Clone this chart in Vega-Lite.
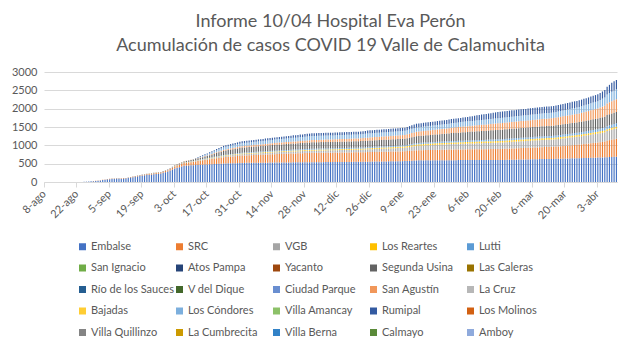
{
  "$schema": "https://vega.github.io/schema/vega-lite/v6.json",
  "width": 573,
  "height": 110,
  "autosize": {"type": "none"},
  "padding": {"left": 44, "top": 72, "right": 20, "bottom": 171},
  "background": "white",
  "title": {
    "text": ["Informe 10/04 Hospital Eva Perón", "Acumulación de casos COVID 19 Valle de Calamuchita"],
    "font": "Lato", "fontSize": 18, "fontWeight": "normal", "color": "#595959",
    "anchor": "middle", "offset": 11, "lineHeight": 24
  },
  "datasets": {
    "names": [
      {"k": "a", "s": "Embalse", "o": 0},
      {"k": "b", "s": "SRC", "o": 1},
      {"k": "c", "s": "VGB", "o": 2},
      {"k": "d", "s": "Los Reartes", "o": 3},
      {"k": "e", "s": "Lutti", "o": 4},
      {"k": "i", "s": "Segunda Usina", "o": 8},
      {"k": "n", "s": "San Agustín", "o": 13},
      {"k": "q", "s": "Los Cóndores", "o": 16},
      {"k": "s", "s": "Rumipal", "o": 18}
    ]
  },
  "data": {"values": [
    {"t":0,"a":0},{"t":1,"a":0},{"t":2,"a":0},{"t":3,"a":0},{"t":4,"a":0},{"t":5,"a":0},{"t":6,"a":0},{"t":7,"a":0},{"t":8,"a":0},{"t":9,"a":0},{"t":10,"a":0},{"t":11,"a":0},{"t":12,"a":0},{"t":13,"a":0},{"t":14,"a":0},{"t":15,"a":0},{"t":16,"a":0},
    {"t":17,"a":5},{"t":18,"a":9,"b":1},{"t":19,"a":13,"b":1},{"t":20,"a":18,"b":2},{"t":21,"a":22,"b":3},
    {"t":22,"a":29,"b":4,"i":1},{"t":23,"a":36,"b":4,"i":1},{"t":24,"a":43,"b":5,"i":2},
    {"t":25,"a":52,"b":6,"i":2},{"t":26,"a":60,"b":6,"i":3},{"t":27,"a":69,"b":7,"i":3},{"t":28,"a":78,"b":8,"i":4},
    {"t":29,"a":81,"b":8,"i":4},{"t":30,"a":83,"b":9,"i":5},{"t":31,"a":86,"b":9,"i":5},
    {"t":32,"a":88,"b":9,"i":5},{"t":33,"a":90,"b":10,"i":5},{"t":34,"a":92,"b":10,"i":5},{"t":35,"a":94,"b":10,"i":5,"c":1},
    {"t":36,"a":106,"b":11,"i":5,"c":1},{"t":37,"a":117,"b":12,"i":6,"c":1},{"t":38,"a":129,"b":13,"i":6,"c":1,"d":1},{"t":39,"a":140,"b":14,"i":7,"c":2,"d":1},{"t":40,"a":152,"b":16,"i":7,"c":2,"d":1},{"t":41,"a":163,"b":17,"i":8,"c":2,"d":2},{"t":42,"a":175,"b":18,"i":8,"c":2,"d":2},
    {"t":43,"a":182,"b":19,"i":8,"c":2,"d":2},{"t":44,"a":189,"b":21,"i":8,"c":2,"d":2},{"t":45,"a":196,"b":22,"i":9,"c":2,"d":2},{"t":46,"a":203,"b":23,"i":9,"c":3,"d":2},{"t":47,"a":211,"b":24,"i":9,"c":3,"d":2},{"t":48,"a":218,"b":26,"i":10,"c":3,"d":2},{"t":49,"a":225,"b":27,"i":10,"c":3,"d":2},{"t":50,"a":232,"b":28,"i":10,"c":3,"d":2},
    {"t":51,"a":250,"b":31,"i":11,"c":3,"d":2},{"t":52,"a":267,"b":34,"i":11,"c":4,"d":2},{"t":53,"a":285,"b":37,"i":12,"c":4,"d":2},
    {"t":54,"a":313,"b":41,"i":13,"c":4,"d":3,"e":2,"n":2},{"t":55,"a":342,"b":46,"i":14,"c":5,"d":4,"e":3,"n":3},{"t":56,"a":370,"b":50,"i":15,"c":5,"d":5,"e":5,"n":5},
    {"t":57,"a":388,"b":56,"i":18,"c":6,"d":5,"e":5,"n":5},{"t":58,"a":405,"b":63,"i":20,"c":7,"d":5,"e":5,"n":5},{"t":59,"a":423,"b":69,"i":23,"c":7,"d":6,"e":6,"n":5},{"t":60,"a":440,"b":75,"i":25,"c":8,"d":6,"e":6,"n":5},
    {"t":61,"a":445,"b":78,"i":28,"c":9,"d":6,"e":6,"n":5},{"t":62,"a":450,"b":82,"i":32,"c":9,"d":7,"e":7,"n":6},{"t":63,"a":455,"b":85,"i":35,"c":10,"d":7,"e":7,"n":6},
    {"t":64,"a":459,"b":91,"c":11,"d":7,"e":7,"i":39,"n":7,"q":4,"s":4},
    {"t":65,"a":462,"b":98,"c":13,"d":8,"e":8,"i":42,"n":9,"q":9,"s":7},
    {"t":66,"a":466,"b":104,"c":14,"d":8,"e":8,"i":46,"n":10,"q":13,"s":11},
    {"t":67,"a":469,"b":111,"c":16,"d":9,"e":9,"i":50,"n":11,"q":17,"s":14},
    {"t":68,"a":473,"b":117,"c":17,"d":9,"e":9,"i":53,"n":12,"q":21,"s":18},
    {"t":69,"a":476,"b":124,"c":19,"d":10,"e":10,"i":57,"n":14,"q":26,"s":21},
    {"t":70,"a":480,"b":130,"c":20,"d":10,"e":10,"i":60,"n":15,"q":30,"s":25},
    {"t":71,"a":484,"b":136,"c":21,"d":11,"e":11,"i":68,"n":17,"q":36,"s":27},
    {"t":72,"a":487,"b":141,"c":23,"d":11,"e":11,"i":75,"n":19,"q":41,"s":29},
    {"t":73,"a":491,"b":147,"c":24,"d":12,"e":12,"i":83,"n":21,"q":47,"s":31},
    {"t":74,"a":494,"b":153,"c":26,"d":12,"e":13,"i":90,"n":22,"q":53,"s":34},
    {"t":75,"a":498,"b":159,"c":27,"d":13,"e":14,"i":98,"n":24,"q":59,"s":36},
    {"t":76,"a":501,"b":164,"c":29,"d":13,"e":14,"i":105,"n":26,"q":64,"s":38},
    {"t":77,"a":505,"b":170,"c":30,"d":14,"e":15,"i":113,"n":28,"q":70,"s":40},
    {"t":78,"a":507,"b":174,"c":31,"d":15,"e":16,"i":116,"n":30,"q":71,"s":42},
    {"t":79,"a":509,"b":178,"c":33,"d":15,"e":16,"i":120,"n":31,"q":73,"s":43},
    {"t":80,"a":511,"b":181,"c":34,"d":16,"e":17,"i":123,"n":33,"q":74,"s":45},
    {"t":81,"a":513,"b":185,"c":35,"d":16,"e":17,"i":127,"n":34,"q":75,"s":46},
    {"t":82,"a":514,"b":189,"c":36,"d":16,"e":18,"i":130,"n":36,"q":76,"s":48},
    {"t":83,"a":516,"b":193,"c":38,"d":17,"e":19,"i":133,"n":37,"q":78,"s":49},
    {"t":84,"a":518,"b":196,"c":39,"d":17,"e":19,"i":137,"n":39,"q":79,"s":51},
    {"t":85,"a":520,"b":200,"c":40,"d":18,"e":20,"i":140,"n":40,"q":80,"s":52},
    {"t":86,"a":521,"b":202,"c":41,"d":18,"e":20,"i":141,"n":41,"q":81,"s":52},
    {"t":87,"a":522,"b":204,"c":41,"d":18,"e":21,"i":143,"n":41,"q":82,"s":53},
    {"t":88,"a":522,"b":206,"c":42,"d":19,"e":21,"i":144,"n":42,"q":83,"s":53},
    {"t":89,"a":523,"b":208,"c":43,"d":19,"e":21,"i":145,"n":43,"q":84,"s":53},
    {"t":90,"a":523,"b":210,"c":43,"d":19,"e":21,"i":147,"n":43,"q":85,"s":54},
    {"t":91,"a":524,"b":212,"c":44,"d":20,"e":22,"i":148,"n":44,"q":86,"s":54},
    {"t":92,"a":525,"b":214,"c":45,"d":20,"e":22,"i":149,"n":45,"q":87,"s":54},
    {"t":93,"a":526,"b":216,"c":45,"d":20,"e":22,"i":151,"n":45,"q":87,"s":54},
    {"t":94,"a":526,"b":218,"c":46,"d":20,"e":22,"i":152,"n":46,"q":88,"s":55},
    {"t":95,"a":527,"b":220,"c":47,"d":21,"e":23,"i":153,"n":47,"q":90,"s":55},
    {"t":96,"a":528,"b":222,"c":47,"d":21,"e":23,"i":155,"n":47,"q":91,"s":56},
    {"t":97,"a":529,"b":224,"c":48,"d":21,"e":23,"i":156,"n":48,"q":92,"s":56},
    {"t":98,"a":530,"b":226,"c":49,"d":21,"e":23,"i":157,"n":49,"q":93,"s":56},
    {"t":99,"a":531,"b":228,"c":49,"d":22,"e":24,"i":159,"n":49,"q":94,"s":57},
    {"t":100,"a":532,"b":230,"c":50,"d":22,"e":24,"i":160,"n":50,"q":95,"s":57},
    {"t":101,"a":533,"b":232,"c":51,"d":22,"e":24,"i":161,"n":51,"q":96,"s":58},
    {"t":102,"a":533,"b":233,"c":51,"d":22,"e":25,"i":162,"n":51,"q":97,"s":59},
    {"t":103,"a":534,"b":235,"c":52,"d":23,"e":25,"i":163,"n":52,"q":98,"s":61},
    {"t":104,"a":534,"b":237,"c":53,"d":23,"e":25,"i":164,"n":53,"q":99,"s":62},
    {"t":105,"a":535,"b":238,"c":53,"d":23,"e":25,"i":165,"n":53,"q":100,"s":63},
    {"t":106,"a":535,"b":240,"c":54,"d":23,"e":26,"i":166,"n":54,"q":101,"s":64},
    {"t":107,"a":536,"b":242,"c":55,"d":24,"e":26,"i":167,"n":55,"q":102,"s":65},
    {"t":108,"a":536,"b":243,"c":55,"d":24,"e":26,"i":168,"n":55,"q":103,"s":67},
    {"t":109,"a":537,"b":245,"c":56,"d":24,"e":26,"i":169,"n":56,"q":104,"s":68},
    {"t":110,"a":537,"b":247,"c":57,"d":24,"e":27,"i":170,"n":57,"q":105,"s":69},
    {"t":111,"a":538,"b":248,"c":57,"d":24,"e":27,"i":171,"n":57,"q":106,"s":70},
    {"t":112,"a":538,"b":250,"c":58,"d":25,"e":27,"i":172,"n":58,"q":107,"s":71},
    {"t":113,"a":539,"b":252,"c":59,"d":25,"e":27,"i":173,"n":59,"q":108,"s":73},
    {"t":114,"a":539,"b":253,"c":59,"d":25,"e":28,"i":174,"n":59,"q":109,"s":74},
    {"t":115,"a":540,"b":255,"c":60,"d":25,"e":28,"i":175,"n":60,"q":110,"s":75},
    {"t":116,"a":540,"b":255,"c":60,"d":25,"e":28,"i":175,"n":61,"q":110,"s":75},
    {"t":117,"a":541,"b":255,"c":61,"d":25,"e":28,"i":175,"n":62,"q":110,"s":75},
    {"t":118,"a":541,"b":256,"c":61,"d":25,"e":28,"i":175,"n":62,"q":110,"s":75},
    {"t":119,"a":542,"b":256,"c":62,"d":26,"e":28,"i":175,"n":63,"q":110,"s":75},
    {"t":120,"a":542,"b":256,"c":62,"d":26,"e":28,"i":175,"n":64,"q":110,"s":75},
    {"t":121,"a":543,"b":256,"c":63,"d":26,"e":28,"i":175,"n":65,"q":110,"s":75},
    {"t":122,"a":543,"b":257,"c":63,"d":26,"e":28,"i":175,"n":65,"q":110,"s":75},
    {"t":123,"a":544,"b":257,"c":64,"d":26,"e":28,"i":175,"n":66,"q":110,"s":75},
    {"t":124,"a":544,"b":257,"c":64,"d":26,"e":28,"i":175,"n":67,"q":110,"s":75},
    {"t":125,"a":545,"b":257,"c":65,"d":26,"e":28,"i":175,"n":68,"q":110,"s":75},
    {"t":126,"a":545,"b":257,"c":65,"d":27,"e":29,"i":175,"n":68,"q":110,"s":75},
    {"t":127,"a":546,"b":258,"c":66,"d":27,"e":29,"i":175,"n":69,"q":110,"s":75},
    {"t":128,"a":546,"b":258,"c":66,"d":27,"e":29,"i":175,"n":70,"q":110,"s":75},
    {"t":129,"a":547,"b":258,"c":67,"d":27,"e":29,"i":175,"n":71,"q":110,"s":75},
    {"t":130,"a":547,"b":259,"c":67,"d":27,"e":29,"i":175,"n":72,"q":110,"s":75},
    {"t":131,"a":548,"b":259,"c":68,"d":27,"e":29,"i":175,"n":72,"q":110,"s":75},
    {"t":132,"a":548,"b":259,"c":68,"d":28,"e":29,"i":175,"n":73,"q":110,"s":75},
    {"t":133,"a":549,"b":259,"c":69,"d":28,"e":29,"i":175,"n":74,"q":110,"s":75},
    {"t":134,"a":549,"b":260,"c":69,"d":28,"e":29,"i":175,"n":74,"q":110,"s":75},
    {"t":135,"a":550,"b":260,"c":70,"d":28,"e":29,"i":175,"n":75,"q":110,"s":75},
    {"t":136,"a":551,"b":260,"c":71,"d":28,"e":29,"i":176,"n":77,"q":110,"s":76},
    {"t":137,"a":552,"b":261,"c":72,"d":29,"e":29,"i":176,"n":79,"q":111,"s":77},
    {"t":138,"a":553,"b":261,"c":73,"d":29,"e":30,"i":177,"n":81,"q":111,"s":79},
    {"t":139,"a":554,"b":262,"c":74,"d":30,"e":30,"i":177,"n":83,"q":112,"s":80},
    {"t":140,"a":555,"b":262,"c":75,"d":30,"e":30,"i":178,"n":85,"q":112,"s":81},
    {"t":141,"a":556,"b":262,"c":76,"d":30,"e":30,"i":178,"n":86,"q":112,"s":81},
    {"t":142,"a":557,"b":263,"c":78,"d":31,"e":30,"i":179,"n":87,"q":112,"s":82},
    {"t":143,"a":558,"b":263,"c":79,"d":31,"e":30,"i":179,"n":88,"q":112,"s":82},
    {"t":144,"a":559,"b":264,"c":80,"d":31,"e":31,"i":179,"n":89,"q":112,"s":82},
    {"t":145,"a":560,"b":264,"c":82,"d":32,"e":31,"i":179,"n":90,"q":112,"s":82},
    {"t":146,"a":561,"b":264,"c":83,"d":32,"e":31,"i":180,"n":91,"q":112,"s":83},
    {"t":147,"a":562,"b":265,"c":84,"d":32,"e":31,"i":180,"n":92,"q":113,"s":83},
    {"t":148,"a":563,"b":265,"c":86,"d":33,"e":31,"i":180,"n":93,"q":113,"s":83},
    {"t":149,"a":564,"b":266,"c":87,"d":33,"e":31,"i":180,"n":94,"q":113,"s":83},
    {"t":150,"a":565,"b":266,"c":88,"d":33,"e":31,"i":181,"n":95,"q":113,"s":84},
    {"t":151,"a":566,"b":266,"c":90,"d":34,"e":31,"i":181,"n":96,"q":113,"s":84},
    {"t":152,"a":567,"b":267,"c":91,"d":34,"e":32,"i":181,"n":97,"q":113,"s":84},
    {"t":153,"a":568,"b":267,"c":92,"d":34,"e":32,"i":181,"n":98,"q":113,"s":85},
    {"t":154,"a":569,"b":268,"c":94,"d":35,"e":32,"i":182,"n":99,"q":113,"s":85},
    {"t":155,"a":570,"b":268,"c":95,"d":35,"e":32,"i":182,"n":100,"q":113,"s":85},
    {"t":156,"a":574,"b":269,"c":100,"d":36,"e":33,"i":184,"n":104,"q":113,"s":89},
    {"t":157,"a":578,"b":271,"c":105,"d":37,"e":33,"i":185,"n":108,"q":114,"s":93},
    {"t":158,"a":582,"b":272,"c":110,"d":38,"e":34,"i":187,"n":112,"q":114,"s":97},
    {"t":159,"a":586,"b":274,"c":115,"d":39,"e":34,"i":188,"n":116,"q":115,"s":101},
    {"t":160,"a":590,"b":275,"c":120,"d":40,"e":35,"i":190,"n":120,"q":115,"s":105},
    {"t":161,"a":590,"b":276,"c":122,"d":40,"e":35,"i":192,"n":122,"q":116,"s":105},
    {"t":162,"a":591,"b":277,"c":124,"d":40,"e":36,"i":193,"n":123,"q":116,"s":105},
    {"t":163,"a":591,"b":278,"c":126,"d":41,"e":36,"i":195,"n":125,"q":117,"s":106},
    {"t":164,"a":592,"b":279,"c":128,"d":41,"e":36,"i":196,"n":126,"q":118,"s":106},
    {"t":165,"a":592,"b":280,"c":130,"d":41,"e":37,"i":198,"n":128,"q":119,"s":106},
    {"t":166,"a":592,"b":281,"c":132,"d":41,"e":37,"i":199,"n":129,"q":120,"s":106},
    {"t":167,"a":593,"b":282,"c":134,"d":41,"e":37,"i":201,"n":131,"q":120,"s":106},
    {"t":168,"a":593,"b":283,"c":136,"d":42,"e":37,"i":202,"n":132,"q":121,"s":107},
    {"t":169,"a":594,"b":284,"c":138,"d":42,"e":38,"i":204,"n":134,"q":121,"s":107},
    {"t":170,"a":594,"b":285,"c":140,"d":42,"e":38,"i":205,"n":135,"q":122,"s":107},
    {"t":171,"a":594,"b":286,"c":142,"d":42,"e":38,"i":207,"n":137,"q":123,"s":108},
    {"t":172,"a":595,"b":286,"c":143,"d":42,"e":39,"i":210,"n":139,"q":124,"s":109},
    {"t":173,"a":595,"b":287,"c":145,"d":42,"e":39,"i":212,"n":141,"q":124,"s":109},
    {"t":174,"a":595,"b":288,"c":146,"d":42,"e":39,"i":214,"n":143,"q":125,"s":110},
    {"t":175,"a":596,"b":289,"c":148,"d":43,"e":40,"i":217,"n":145,"q":126,"s":111},
    {"t":176,"a":596,"b":289,"c":149,"d":43,"e":40,"i":219,"n":147,"q":127,"s":112},
    {"t":177,"a":596,"b":290,"c":151,"d":43,"e":40,"i":221,"n":149,"q":128,"s":113},
    {"t":178,"a":597,"b":291,"c":152,"d":43,"e":40,"i":223,"n":151,"q":128,"s":113},
    {"t":179,"a":597,"b":291,"c":154,"d":43,"e":41,"i":226,"n":153,"q":129,"s":114},
    {"t":180,"a":597,"b":292,"c":155,"d":43,"e":41,"i":228,"n":155,"q":130,"s":115},
    {"t":181,"a":597,"b":292,"c":156,"d":43,"e":41,"i":230,"n":157,"q":131,"s":119},
    {"t":182,"a":597,"b":293,"c":158,"d":43,"e":42,"i":232,"n":158,"q":131,"s":122},
    {"t":183,"a":598,"b":293,"c":159,"d":43,"e":42,"i":234,"n":160,"q":132,"s":126},
    {"t":184,"a":598,"b":294,"c":160,"d":44,"e":42,"i":236,"n":161,"q":132,"s":129},
    {"t":185,"a":598,"b":294,"c":161,"d":44,"e":42,"i":238,"n":163,"q":133,"s":133},
    {"t":186,"a":598,"b":295,"c":163,"d":44,"e":43,"i":240,"n":165,"q":134,"s":137},
    {"t":187,"a":599,"b":295,"c":164,"d":44,"e":43,"i":242,"n":166,"q":134,"s":140},
    {"t":188,"a":599,"b":296,"c":165,"d":44,"e":43,"i":244,"n":168,"q":135,"s":144},
    {"t":189,"a":599,"b":296,"c":166,"d":44,"e":43,"i":246,"n":169,"q":136,"s":148},
    {"t":190,"a":599,"b":297,"c":168,"d":44,"e":43,"i":248,"n":171,"q":136,"s":151},
    {"t":191,"a":599,"b":297,"c":169,"d":45,"e":44,"i":250,"n":172,"q":137,"s":155},
    {"t":192,"a":599,"b":298,"c":170,"d":45,"e":44,"i":252,"n":174,"q":137,"s":158},
    {"t":193,"a":599,"b":298,"c":171,"d":45,"e":44,"i":254,"n":175,"q":138,"s":162},
    {"t":194,"a":600,"b":299,"c":173,"d":45,"e":44,"i":256,"n":177,"q":139,"s":166},
    {"t":195,"a":600,"b":299,"c":174,"d":45,"e":45,"i":258,"n":178,"q":139,"s":169},
    {"t":196,"a":600,"b":300,"c":175,"d":45,"e":45,"i":260,"n":180,"q":140,"s":173},
    {"t":197,"a":601,"b":301,"c":176,"d":45,"e":45,"i":261,"n":181,"q":141,"s":173},
    {"t":198,"a":603,"b":303,"c":177,"d":45,"e":46,"i":262,"n":182,"q":141,"s":173},
    {"t":199,"a":604,"b":304,"c":178,"d":45,"e":46,"i":262,"n":183,"q":142,"s":174},
    {"t":200,"a":606,"b":306,"c":179,"d":45,"e":47,"i":263,"n":184,"q":142,"s":174},
    {"t":201,"a":607,"b":307,"c":181,"d":45,"e":47,"i":264,"n":186,"q":143,"s":174},
    {"t":202,"a":608,"b":308,"c":182,"d":45,"e":47,"i":265,"n":187,"q":143,"s":174},
    {"t":203,"a":610,"b":310,"c":183,"d":45,"e":48,"i":266,"n":188,"q":144,"s":175},
    {"t":204,"a":611,"b":311,"c":184,"d":45,"e":48,"i":267,"n":189,"q":144,"s":175},
    {"t":205,"a":613,"b":313,"c":185,"d":46,"e":48,"i":267,"n":190,"q":145,"s":175},
    {"t":206,"a":614,"b":314,"c":186,"d":46,"e":49,"i":268,"n":191,"q":146,"s":175},
    {"t":207,"a":615,"b":315,"c":187,"d":46,"e":49,"i":269,"n":192,"q":146,"s":175},
    {"t":208,"a":617,"b":317,"c":188,"d":46,"e":49,"i":270,"n":193,"q":147,"s":176},
    {"t":209,"a":618,"b":318,"c":190,"d":46,"e":50,"i":271,"n":194,"q":147,"s":176},
    {"t":210,"a":619,"b":319,"c":191,"d":46,"e":50,"i":272,"n":196,"q":148,"s":176},
    {"t":211,"a":621,"b":321,"c":192,"d":46,"e":51,"i":272,"n":197,"q":148,"s":176},
    {"t":212,"a":622,"b":322,"c":193,"d":46,"e":51,"i":273,"n":198,"q":149,"s":177},
    {"t":213,"a":624,"b":324,"c":194,"d":46,"e":51,"i":274,"n":199,"q":149,"s":177},
    {"t":214,"a":625,"b":325,"c":195,"d":46,"e":52,"i":275,"n":200,"q":150,"s":177},
    {"t":215,"a":626,"b":326,"c":196,"d":46,"e":52,"i":275,"n":201,"q":151,"s":177},
    {"t":216,"a":627,"b":327,"c":197,"d":46,"e":53,"i":276,"n":202,"q":151,"s":177},
    {"t":217,"a":628,"b":328,"c":198,"d":46,"e":53,"i":276,"n":204,"q":152,"s":177},
    {"t":218,"a":629,"b":329,"c":199,"d":46,"e":54,"i":277,"n":205,"q":152,"s":177},
    {"t":219,"a":630,"b":330,"c":200,"d":46,"e":54,"i":277,"n":206,"q":153,"s":177},
    {"t":220,"a":632,"b":334,"c":202,"d":46,"e":55,"i":278,"n":209,"q":155,"s":177},
    {"t":221,"a":634,"b":337,"c":204,"d":46,"e":55,"i":278,"n":211,"q":157,"s":178},
    {"t":222,"a":635,"b":341,"c":205,"d":47,"e":56,"i":279,"n":214,"q":159,"s":178},
    {"t":223,"a":637,"b":345,"c":207,"d":47,"e":57,"i":280,"n":217,"q":161,"s":179},
    {"t":224,"a":639,"b":348,"c":209,"d":47,"e":58,"i":281,"n":219,"q":163,"s":179},
    {"t":225,"a":641,"b":352,"c":211,"d":47,"e":58,"i":281,"n":222,"q":165,"s":180},
    {"t":226,"a":643,"b":355,"c":213,"d":47,"e":59,"i":282,"n":224,"q":167,"s":180},
    {"t":227,"a":645,"b":359,"c":215,"d":47,"e":60,"i":283,"n":227,"q":169,"s":181},
    {"t":228,"a":646,"b":363,"c":216,"d":48,"e":61,"i":284,"n":230,"q":171,"s":181},
    {"t":229,"a":648,"b":366,"c":218,"d":48,"e":61,"i":284,"n":232,"q":173,"s":182},
    {"t":230,"a":650,"b":370,"c":220,"d":48,"e":62,"i":285,"n":235,"q":175,"s":182},
    {"t":231,"a":652,"b":375,"c":223,"d":48,"e":63,"i":286,"n":239,"q":178,"s":182},
    {"t":232,"a":654,"b":380,"c":226,"d":48,"e":65,"i":287,"n":244,"q":181,"s":183},
    {"t":233,"a":656,"b":385,"c":229,"d":48,"e":66,"i":288,"n":248,"q":184,"s":183},
    {"t":234,"a":657,"b":390,"c":232,"d":48,"e":67,"i":289,"n":252,"q":187,"s":184},
    {"t":235,"a":659,"b":395,"c":236,"d":49,"e":68,"i":290,"n":257,"q":191,"s":184},
    {"t":236,"a":661,"b":400,"c":239,"d":49,"e":70,"i":291,"n":261,"q":194,"s":185},
    {"t":237,"a":663,"b":405,"c":242,"d":49,"e":71,"i":292,"n":266,"q":197,"s":185},
    {"t":238,"a":665,"b":410,"c":245,"d":49,"e":72,"i":293,"n":270,"q":200,"s":186},
    {"t":239,"a":667,"b":417,"c":248,"d":49,"e":74,"i":295,"n":280,"q":208,"s":191},
    {"t":240,"a":670,"b":423,"c":252,"d":49,"e":76,"i":296,"n":290,"q":217,"s":197},
    {"t":241,"a":672,"b":430,"c":255,"d":49,"e":78,"i":298,"n":300,"q":225,"s":202},
    {"t":242,"a":678,"b":450,"c":262,"d":50,"e":82,"i":302,"n":320,"q":240,"s":216},
    {"t":243,"a":682,"b":460,"c":267,"d":50,"e":84,"i":304,"n":328,"q":249,"s":226},
    {"t":244,"a":685,"b":470,"c":272,"d":50,"e":86,"i":306,"n":335,"q":258,"s":247},
    {"t":245,"a":688,"b":480,"c":276,"d":50,"e":88,"i":308,"n":342,"q":264,"s":249},
    {"t":246,"a":690,"b":490,"c":280,"d":50,"e":90,"i":310,"n":350,"q":270,"s":252}
  ]},
  "transform": [
    {"fold": ["a", "b", "c", "d", "e", "i", "n", "q", "s"], "as": ["k", "v"]},
    {"filter": "isValid(datum.v)"},
    {"lookup": "k", "from": {"data": {"name": "names"}, "key": "k", "fields": ["s", "o"]}}
  ],
  "mark": {"type": "bar"},
  "encoding": {
    "x": {
      "field": "t", "type": "ordinal",
      "scale": {"paddingInner": 0.5, "paddingOuter": 0},
      "axis": {
        "title": null,
        "values": [0, 14, 28, 42, 56, 70, 84, 98, 112, 126, 140, 154, 168, 182, 196, 210, 224, 238],
        "bandPosition": 0,
        "labelExpr": "utcdate(utc(2020,7,8+datum.value)) + '-' + ['ene','feb','mar','abr','may','jun','jul','ago','sep','oct','nov','dic'][utcmonth(utc(2020,7,8+datum.value))]",
        "labelAngle": -45, "labelAlign": "right", "labelBaseline": "middle",
        "labelFont": "Lato", "labelFontSize": 11, "labelColor": "#595959", "labelPadding": 5,
        "domainColor": "#D9D9D9", "tickColor": "#D9D9D9", "tickSize": 5, "grid": false
      }
    },
    "y": {
      "field": "v", "type": "quantitative", "stack": "zero",
      "scale": {"domain": [0, 3000]},
      "axis": {
        "title": null, "values": [0, 500, 1000, 1500, 2000, 2500, 3000], "format": "d",
        "domain": false, "ticks": false, "labelPadding": 7,
        "labelFont": "Lato", "labelFontSize": 11, "labelColor": "#595959",
        "gridColor": "#D9D9D9"
      }
    },
    "color": {
      "field": "s", "type": "nominal",
      "scale": {
        "domain": ["Embalse", "SRC", "VGB", "Los Reartes", "Lutti", "San Ignacio", "Atos Pampa", "Yacanto", "Segunda Usina", "Las Caleras", "Río de los Sauces", "V del Dique", "Ciudad Parque", "San Agustín", "La Cruz", "Bajadas", "Los Cóndores", "Villa Amancay", "Rumipal", "Los Molinos", "Villa Quillinzo", "La Cumbrecita", "Villa Berna", "Calmayo", "Amboy"],
        "range": ["#4472C4", "#ED7D31", "#A5A5A5", "#FFC000", "#5B9BD5", "#70AD47", "#264478", "#9E480E", "#636363", "#997300", "#255E91", "#43682B", "#698ED0", "#F1975A", "#B7B7B7", "#FFCD33", "#7CAFDD", "#8CC168", "#335AA1", "#D26012", "#848484", "#CC9A00", "#3282C7", "#5A8A39", "#8FAADC"]
      },
      "legend": {
        "title": null, "orient": "none", "legendX": 33, "legendY": 169,
        "columns": 5, "direction": "horizontal", "gridAlign": "all",
        "columnPadding": 0, "rowPadding": 9.5, "padding": 0,
        "symbolType": "square", "symbolSize": 49, "symbolStrokeWidth": 0,
        "labelFont": "Lato", "labelFontSize": 11, "labelColor": "#595959", "labelOffset": 3, "labelLimit": 120
      }
    },
    "order": {"field": "o", "type": "quantitative"}
  },
  "config": {"view": {"stroke": null}}
}
